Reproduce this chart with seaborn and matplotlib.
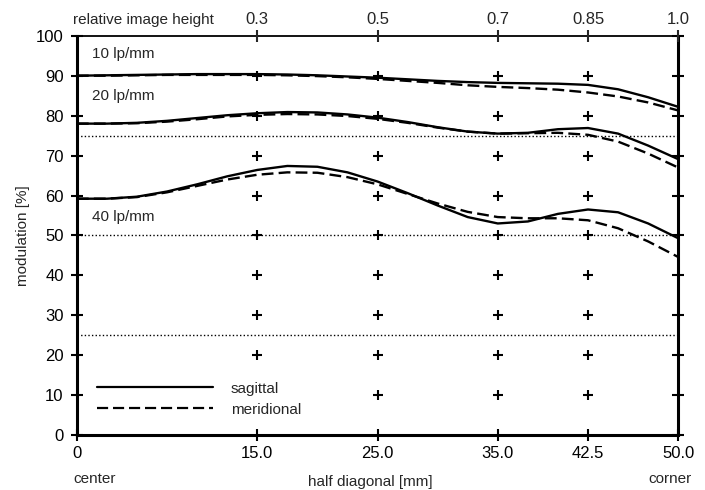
import numpy as np
import pandas as pd
import matplotlib
matplotlib.use("Agg")
import matplotlib.pyplot as plt
import seaborn as sns
from matplotlib.lines import Line2D

# ---- data ----
x_mm = [0, 2.5, 5, 7.5, 10, 12.5, 15, 17.5, 20, 22.5, 25, 27.5, 30, 32.5, 35, 37.5, 40, 42.5, 45, 47.5, 50]
sag_10 = [90.0, 90.1, 90.2, 90.3, 90.4, 90.4, 90.4, 90.3, 90.1, 89.8, 89.5, 89.1, 88.7, 88.4, 88.2, 88.1, 88.0, 87.7, 86.6, 84.6, 82.2]
mer_10 = [90.0, 90.0, 90.1, 90.2, 90.2, 90.2, 90.2, 90.1, 89.9, 89.6, 89.2, 88.7, 88.2, 87.6, 87.2, 86.9, 86.5, 85.8, 84.8, 83.3, 81.3]
sag_20 = [78.0, 78.0, 78.2, 78.7, 79.4, 80.1, 80.6, 80.9, 80.8, 80.3, 79.5, 78.4, 77.1, 76.0, 75.5, 75.7, 76.6, 76.9, 75.5, 72.5, 69.1]
mer_20 = [78.0, 78.0, 78.1, 78.5, 79.1, 79.8, 80.2, 80.4, 80.3, 79.9, 79.2, 78.2, 77.0, 76.0, 75.5, 75.6, 75.7, 75.2, 73.5, 70.5, 67.0]
sag_40 = [59.2, 59.2, 59.7, 61.0, 62.8, 64.8, 66.4, 67.4, 67.2, 65.8, 63.5, 60.6, 57.5, 54.6, 53.0, 53.5, 55.4, 56.5, 55.8, 53.0, 49.3]
mer_40 = [59.2, 59.2, 59.6, 60.8, 62.4, 64.0, 65.2, 65.8, 65.7, 64.6, 62.8, 60.4, 58.0, 55.9, 54.6, 54.3, 54.3, 53.8, 51.8, 48.5, 44.6]

freq_labels = ["10 lp/mm", "20 lp/mm", "40 lp/mm"]
freq_label_y = [95.5, 85.0, 54.6]
ref_levels = [75, 50, 25]

x_ticks = [0, 15, 25, 35, 42.5, 50]
x_ticklabels = ["0", "15.0", "25.0", "35.0", "42.5", "50.0"]
top_ticks = [15, 25, 35, 42.5, 50]
top_ticklabels = ["0.3", "0.5", "0.7", "0.85", "1.0"]
y_ticks = list(range(0, 101, 10))

# ---- long-form table ----
rows = []
for freq, sag, mer in zip(freq_labels, [sag_10, sag_20, sag_40], [mer_10, mer_20, mer_40]):
    for xv, s, m in zip(x_mm, sag, mer):
        rows.append({"x": xv, "mod": s, "freq": freq, "orient": "sagittal"})
        rows.append({"x": xv, "mod": m, "freq": freq, "orient": "meridional"})
df = pd.DataFrame(rows)

sns.set_style("white")
plt.rcParams["font.family"] = ["Liberation Sans", "DejaVu Sans"]

fig = plt.figure(figsize=(7.05, 4.9), dpi=100)
ax = fig.add_axes([0.109, 0.112, 0.853, 0.815])

sns.lineplot(data=df, x="x", y="mod", hue="freq", style="orient",
             palette=["black"] * 3, dashes={"sagittal": "", "meridional": (5, 2.2)},
             estimator=None, sort=False, linewidth=1.7, legend=False, ax=ax)

for lv in ref_levels:
    ax.plot([0, 50], [lv, lv], color="black", lw=1.0, ls=(0, (1.0, 1.6)))

# grid of crosses
gx, gy = [], []
for xv in top_ticks[:-1]:
    for yv in y_ticks[1:-1]:
        if xv == 15 and yv == 10:
            continue
        gx.append(xv)
        gy.append(yv)
ax.scatter(gx, gy, marker="+", s=45, color="black", linewidths=1.5, zorder=3)

for lab, yv in zip(freq_labels, freq_label_y):
    ax.text(1.25, yv, lab, fontsize=11, va="center", ha="left")

ax.set_xlim(0, 50)
ax.set_ylim(0, 100)
ax.set_xticks(x_ticks)
ax.set_xticklabels(x_ticklabels)
ax.set_yticks(y_ticks)
ax.tick_params(axis="both", direction="inout", length=9, width=1.5, labelsize=12, colors="black")
ax.tick_params(axis="y", pad=5)
ax.tick_params(axis="x", pad=3)
ax.yaxis.set_ticks_position("both")
ax.tick_params(axis="y", which="both", labelright=False)
ax.set_xlabel("half diagonal [mm]", fontsize=11, labelpad=5)
ax.set_ylabel("modulation [%]", fontsize=11, labelpad=4)
ax.xaxis.set_label_coords(0.488, -0.1)

for side, lw in zip(["left", "bottom", "right", "top"], [2.2, 2.2, 2.2, 1.3]):
    ax.spines[side].set_visible(True)
    ax.spines[side].set_color("black")
    ax.spines[side].set_linewidth(lw)

ax2 = ax.twiny()
ax2.set_xlim(0, 50)
ax2.set_xticks(top_ticks)
ax2.set_xticklabels(top_ticklabels)
ax2.tick_params(axis="x", direction="inout", length=9, width=1.5, labelsize=12, pad=2)
for s in ax2.spines.values():
    s.set_visible(False)

fig.text(73 / 705, 1 - 20 / 490, "relative image height", fontsize=11, ha="left", va="center")
fig.text(73 / 705, 1 - 479 / 490, "center", fontsize=11, ha="left", va="center")
fig.text(670 / 705, 1 - 479 / 490, "corner", fontsize=11, ha="center", va="center")

# legend
handles = [Line2D([], [], color="black", lw=1.6),
           Line2D([], [], color="black", lw=1.6, dashes=(5, 2.2))]
ax.legend(handles, ["sagittal", "meridional"], loc="lower left", bbox_to_anchor=(0.01, 0.012),
          frameon=False, handlelength=7.6, fontsize=11, handletextpad=1.2, labelspacing=0.45)

fig.savefig("out.png", dpi=100)
